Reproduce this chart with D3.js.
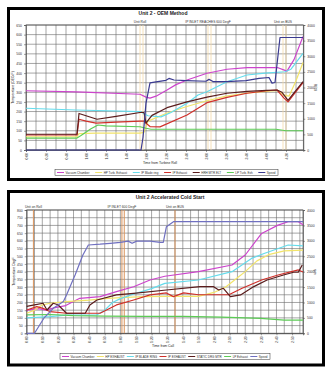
<!DOCTYPE html>
<html><head><meta charset="utf-8">
<script src="https://cdn.jsdelivr.net/npm/d3@7"></script>
<style>body{margin:0;background:#fff}svg{display:block}text{font-family:"Liberation Sans",Arial,sans-serif}</style>
</head><body><svg id="c" width="330" height="373"></svg>
<script>
// ---------- TOP CHART DATA (time in minutes, values in deg F / rpm) ----------
const topTitle = "Unit 2 - OEM Method";
const topSeriesNames = ["Vacuum Chamber","HP Turb. Exhaust","IP Blade ring","IP Exhaust","HRH MTR ELT","LP Turb. Exh","Speed"];
const topVac = [[0,308],[50,302],[114,290],[120,275],[124,270],[130,280],[141,312],[150,340],[161,364],[181,399],[201,420],[221,428],[241,428],[252,428],[261,410],[268,470],[277,590]];
const topHP = [[0,69],[51,69],[53,85],[70,88],[114,88],[118,92],[122,150],[140,190],[160,225],[180,255],[200,280],[220,295],[240,305],[252,310],[258,285],[263,280],[270,360],[277,455]];
const topIPBlade = [[0,217],[50,208],[114,200],[122,178],[135,172],[145,195],[161,243],[172,286],[181,303],[201,355],[221,390],[239,400],[259,407],[265,420],[277,503]];
const topIPExh = [[0,78],[51,78],[53,160],[60,150],[70,140],[90,145],[114,150],[118,150],[121,135],[124,122],[134,120],[161,182],[181,246],[201,274],[221,295],[241,308],[251,312],[258,270],[262,250],[277,350]];
const topHRH = [[0,82],[51,82],[53,190],[71,160],[90,175],[114,195],[118,195],[120,140],[123,160],[126,180],[141,220],[161,250],[181,275],[201,295],[221,305],[241,310],[251,312],[256,300],[262,258],[277,355]];
const topLP = [[0,62],[51,62],[55,75],[65,110],[72,130],[80,125],[114,121],[120,113],[125,108],[140,108],[200,108],[250,108],[260,100],[277,100]];
const topSpeed = [[0,0],[115,0],[117,400],[120,1500],[124,2150],[130,2180],[140,2230],[143,2290],[148,2240],[160,2220],[180,2200],[183,2260],[187,2190],[200,2190],[220,2220],[233,2290],[243,2320],[246,2140],[249,2160],[254,3600],[277,3600]];
const topMarkers = [["Unit Roll",114,117],["IP INLET REACHES 600 DegF",182,185],["Unit on BUS",257,260]];
const topXLabels = ["0:00","0:20","0:40","1:00","1:20","1:40","2:00","2:20","2:40","3:00","3:20","3:40","4:00","4:20"];
const topYTicks = [0,50,100,150,200,250,300,350,400,450,500,550,600,650];
const rpmTicks = [0,500,1000,1500,2000,2500,3000,3500,4000];

// ---------- BOTTOM CHART DATA ----------
const botTitle = "Unit 2 Accelerated Cold Start";
const botSeriesNames = ["Vacuum Chamber","HP EXHAUST","IP BLADE RING","IP EXHAUST","STATIC DRG MTR","LP Exhaust","Speed"];
const botVac = [[0,150],[7.5,160],[12.5,150],[17.5,165],[25,180],[34,227],[47,238],[57.5,270],[68.5,302],[79,346],[88.5,370],[110,400],[131.5,443],[140,508],[150.5,648],[161,702],[167.5,724],[174,724],[177,705]];
const botHP = [[0,130],[5,150],[10,185],[15,195],[25,205],[40,215],[50,225],[60,232],[75,238],[90,240],[110,240],[120,265],[127.5,300],[135,360],[140,400],[147.5,470],[155,510],[165,535],[177,540]];
const botIPBlade = [[0,100],[15,108],[25,118],[45,120],[50,150],[55,200],[60,225],[70,260],[80,290],[88.5,324],[110,346],[131.5,400],[144,486],[152.5,519],[167.5,573],[177,567]];
const botIPExh = [[0,151],[6.5,173],[10.5,162],[15,140],[25.5,130],[36.5,130],[47,130],[57.5,184],[68.5,216],[79,249],[89.5,262],[94,238],[100.5,262],[110,250],[129.5,250],[138,292],[150.5,346],[161,378],[174,411],[177,398]];
const botStatic = [[0,175],[5,185],[10.5,195],[13,151],[17,195],[20,185],[25.5,130],[37.5,130],[40.5,184],[45,216],[57.5,249],[68.5,259],[89.5,281],[111,303],[119.5,303],[123,281],[126,292],[130.5,238],[137,249],[145.5,303],[154,346],[164.5,378],[171,396],[174,396],[176.5,443]];
const botLP = [[0,120],[15,122],[30,115],[50,112],[75,110],[100,110],[125,105],[150,97],[165,86],[177,86]];
const botSpeed = [[0,0],[5,0],[11,490],[17,810],[23.5,1030],[25.5,1240],[31,1890],[36,2540],[39.5,2865],[47,2890],[53.5,2920],[60,2950],[65,2990],[67.5,2920],[70.5,2990],[79,2990],[85.5,2950],[87.5,2950],[89.5,3460],[94,3620],[177,3620]];
const botMarkers = [["Unit on Roll",4.3,null],["IP INLET 600 DegF",61,62.5],["Unit on BUS",95,null]];
const botXLabels = ["0:00","0:10","0:20","0:30","0:40","0:50","1:00","1:10","1:20","1:30","1:40","1:50","2:00","2:10","2:20","2:30","2:40","2:50"];
const botYTicks = [0,50,100,150,200,250,300,350,400,450,500,550,600,650,700,750,800];

const colors = ["#cc44cc","#f2e46a","#66dcec","#d0302a","#5a1c1c","#5ccc55","#3a3a90"];
const botColors = ["#cc44cc","#f2e46a","#66dcec","#d0302a","#5a1c1c","#5ccc55","#7070c0"];

const svg = d3.select("#c");

function drawChart(o){
  const g = svg.append("g");
  g.append("rect").attr("x",o.frame[0]).attr("y",o.frame[1]).attr("width",o.frame[2]).attr("height",o.frame[3])
    .attr("fill","#fff").attr("stroke","#000").attr("stroke-width",3);
  const x = d3.scaleLinear().domain(o.xDomain).range([o.L,o.R]);
  const yL = d3.scaleLinear().domain([0,o.yMax]).range([o.B,o.T]);
  const yR = d3.scaleLinear().domain([0,4000]).range([o.B,o.T]);
  const vgrid = d3.range(o.gridStep, o.xDomain[1], o.gridStep);
  g.append("g").selectAll("line").data(vgrid).join("line")
    .attr("x1",d=>x(d)).attr("x2",d=>x(d)).attr("y1",o.T).attr("y2",o.B)
    .attr("stroke","#6a6a6a").attr("stroke-width",0.6);
  g.append("g").selectAll("line").data(o.yTicks).join("line")
    .attr("x1",o.L).attr("x2",o.R).attr("y1",d=>yL(d)).attr("y2",d=>yL(d))
    .attr("stroke","#6a6a6a").attr("stroke-width",0.6);
  g.append("rect").attr("x",o.L).attr("y",o.T).attr("width",o.R-o.L).attr("height",o.B-o.T)
    .attr("fill","none").attr("stroke","#444").attr("stroke-width",0.7);
  o.markers.forEach(m=>{
    [m[1],m[2]].filter(v=>v!=null).forEach(v=>{
      g.append("line").attr("x1",x(v)).attr("x2",x(v)).attr("y1",o.T).attr("y2",o.B)
        .attr("stroke",o.markerColor).attr("stroke-width",o.markerW);
    });
    g.append("text").attr("x",x(m[1])).attr("y",o.T-2.5).attr("text-anchor","middle")
      .attr("font-size",3.3).attr("fill","#333").text(m[0]);
  });
  const axL = d3.axisLeft(yL).tickValues(o.yTicks).tickSize(2).tickPadding(2).tickFormat(d3.format("d"));
  const gl = g.append("g").attr("transform",`translate(${o.L},0)`).call(axL);
  const axR = d3.axisRight(yR).tickValues(rpmTicks).tickSize(2).tickPadding(2).tickFormat(d3.format("d"));
  const gr = g.append("g").attr("transform",`translate(${o.R},0)`).call(axR);
  const labelStep = o.gridStep*2;
  const axB = d3.axisBottom(x).tickValues(o.xLabels.map((d,i)=>i*labelStep)).tickFormat((d,i)=>o.xLabels[i]).tickSize(2);
  const gb = g.append("g").attr("transform",`translate(0,${o.B})`).call(axB);
  gb.selectAll("text").attr("transform","rotate(-90)").attr("text-anchor","end")
    .attr("x",-3).attr("y",0).attr("dy","0.35em");
  [gl,gr,gb].forEach(a=>{
    a.selectAll("text").attr("font-size",3.4).attr("fill","#333").attr("font-family","Liberation Sans, Arial");
    a.selectAll("line").attr("stroke","#444").attr("stroke-width",0.5);
    a.select(".domain").attr("stroke","#444").attr("stroke-width",0.6);
  });
  const lineL = d3.line().x(d=>x(d[0])).y(d=>yL(d[1]));
  const lineR = d3.line().x(d=>x(d[0])).y(d=>yR(d[1]));
  o.series.forEach(s=>{
    g.append("path").attr("d",(s.right?lineR:lineL)(s.data)).attr("fill","none")
      .attr("stroke",s.color).attr("stroke-width",s.w||1.2).attr("stroke-linejoin","round");
  });
  g.append("text").attr("x",o.titleX).attr("y",o.titleY).attr("text-anchor","middle")
    .attr("font-size",5).attr("font-weight","bold").attr("fill","#222").text(o.title);
  g.append("text").attr("transform",`translate(${o.L-12},${(o.T+o.B)/2}) rotate(-90)`).attr("text-anchor","middle")
    .attr("font-size",3.4).attr("fill","#222").text(o.yLabel);
  g.append("text").attr("transform",`translate(${o.R+11},${(o.T+o.B)/2}) rotate(90)`).attr("text-anchor","middle")
    .attr("font-size",3.4).attr("fill","#222").text(o.rLabel);
  g.append("text").attr("x",o.xTitleX).attr("y",o.xTitleY).attr("text-anchor","middle")
    .attr("font-size",3.4).attr("fill","#222").text(o.xTitle);
  // legend fitted into [legX, legX+legW]
  const lg = g.append("g");
  lg.append("rect").attr("x",o.legX).attr("y",o.legY-3).attr("width",o.legW).attr("height",6)
    .attr("fill","#fff").attr("stroke","#333").attr("stroke-width",0.5);
  const texts = o.series.map(s=>lg.append("text").attr("y",o.legY+1.1).attr("font-size",3).attr("fill","#333").text(s.name));
  const widths = texts.map(t=>t.node().getComputedTextLength());
  const used = d3.sum(widths) + o.series.length*9;
  const gap = (o.legW - 4 - used)/(o.series.length-1);
  let cx = o.legX + 2;
  o.series.forEach((s,i)=>{
    lg.append("line").attr("x1",cx).attr("x2",cx+7).attr("y1",o.legY).attr("y2",o.legY)
      .attr("stroke",s.color).attr("stroke-width",1);
    texts[i].attr("x",cx+8.5);
    cx += 9 + widths[i] + gap;
  });
}

const topData = [topVac,topHP,topIPBlade,topIPExh,topHRH,topLP,topSpeed];
drawChart({
  frame:[8.5,8.5,315,171], L:26, R:303.3, T:25, B:150, xDomain:[0,277.3], gridStep:10,
  yMax:650, yTicks:topYTicks, xLabels:topXLabels, markers:topMarkers,
  markerColor:"#f4d9a8", markerW:0.8,
  series: topData.map((d,i)=>({name:topSeriesNames[i], data:d, color:colors[i], right:i===6})),
  title:topTitle, titleX:163, titleY:14.5, yLabel:"Temperature (DEG F)", rLabel:"RPM",
  xTitle:"Time from Turbine Roll", xTitleX:160, xTitleY:164, legX:55, legW:223, legY:172.5
});
const botData = [botVac,botHP,botIPBlade,botIPExh,botStatic,botLP,botSpeed];
drawChart({
  frame:[8.5,191.5,315,173.5], L:26.7, R:303, T:210, B:333.3, xDomain:[0,177], gridStep:5,
  yMax:800, yTicks:botYTicks, xLabels:botXLabels, markers:botMarkers,
  markerColor:"#d9925a", markerW:1,
  series: botData.map((d,i)=>({name:botSeriesNames[i], data:d, color:botColors[i], right:i===6})),
  title:botTitle, titleX:170, titleY:198.5, yLabel:"Temperature DegF", rLabel:"rpm",
  xTitle:"Time from Call", xTitleX:163, xTitleY:346.5, legX:60, legW:210, legY:356.5
});
</script></body></html>
